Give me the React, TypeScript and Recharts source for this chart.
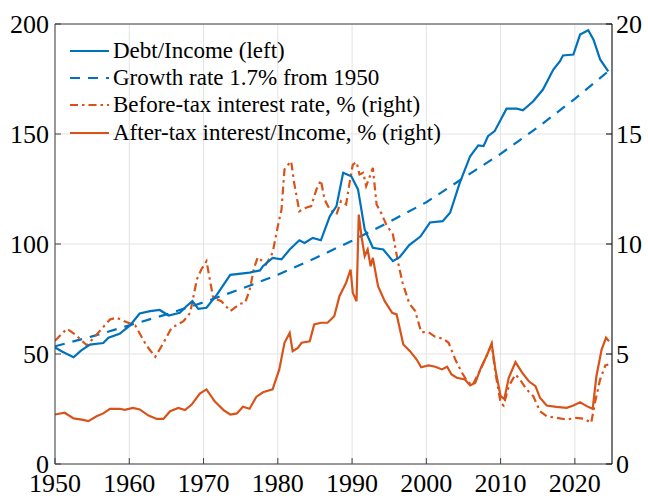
import { LineChart, Line, XAxis, YAxis, CartesianGrid, Legend } from 'recharts';

const FONT = 'Liberation Serif, DejaVu Serif, Times New Roman, Times, serif';
const BLUE = '#0072BD';
const ORANGE = '#D95319';

const YEAR_TICKS = [1950, 1960, 1970, 1980, 1990, 2000, 2010, 2020];
const LEFT_TICKS = [0, 50, 100, 150, 200];
const RIGHT_TICKS = [0, 5, 10, 15, 20];

// Debt/Income (left axis)
const debtYears = [
  1950, 1951, 1952.5, 1953.5, 1954.7, 1956.5, 1957.2, 1958.7, 1960.1, 1961.4, 1962.8, 1964.1, 1965.3,
  1966.8, 1967.7, 1968.5, 1969.3, 1970.4, 1971.8, 1973.6, 1976.2, 1977.6, 1978, 1979.3, 1980.5,
  1981.6, 1982.9, 1983.6, 1984.7, 1985.8, 1987, 1987.9, 1988.8, 1989.9, 1990.8, 1991.7, 1992.8,
  1994.2, 1995.5, 1996.4, 1997.7, 1999.2, 2000.5, 2002.2, 2003.2, 2004.5, 2005.9, 2007, 2007.7,
  2008.3, 2009.2, 2010.8, 2012.2, 2013, 2014.4, 2015.7, 2017.1, 2018, 2018.4, 2019.8, 2020.7,
  2021.8, 2022.5, 2023.4, 2024.5,
];
const debtValues = [
  53, 51, 48.5, 51.5, 54.3, 55, 57.4, 59.2, 63, 68.4, 69.5, 70, 67.5,
  68.7, 71.7, 74, 70.5, 71, 77, 86, 87, 88, 89.9, 93.7, 93,
  97.5, 101.7, 100.5, 102.8, 101.7, 112.6, 117.2, 132.4, 130.8, 124.8, 106.6, 98.3,
  97.5, 92.2, 94, 99.5, 103.4, 109.8, 110.4, 114.2, 127.8, 139.9, 144.8, 144.5,
  149, 151.3, 161.5, 161.5, 160.8, 164.9, 170.2, 179.3, 183.1, 185.7, 186.1, 195.2,
  197.2, 193, 183.9, 178.5,
];

// Growth rate 1.7% from 1950 (left axis)
const growthYears = [1950, 1955, 1960, 1965, 1970, 1975, 1980, 1985, 1990, 1995, 2000, 2005, 2010, 2015, 2020, 2024.5];
const growthValues = [53.5, 58, 63, 68, 73.5, 79.5, 86, 93.5, 101.5, 110, 119, 130, 141, 153, 166, 178.5];

// Before-tax interest rate, % (right axis)
const beforeTaxYears = [
  1950, 1951.6, 1952.7, 1954.3, 1955.8, 1957.4, 1958.3, 1959.6, 1960.8, 1962.3, 1963.5, 1964.6,
  1965.7, 1967.3, 1968.2, 1969.1, 1969.7, 1970.4, 1971.3, 1972.4, 1973.6, 1974.9, 1975.6, 1976.2,
  1976.8, 1977.3, 1978.4, 1979.3, 1980, 1980.5, 1980.9, 1981.3, 1981.8, 1982.2, 1982.9, 1983.8,
  1984.5, 1985.2, 1985.8, 1986.3, 1987, 1987.9, 1988.5, 1989.2, 1989.7, 1990.1, 1990.6, 1991,
  1991.5, 1991.9, 1992.4, 1992.8, 1993.3, 1993.9, 1994.6, 1995.5, 1996.2, 1996.8, 1997.7, 1998.5,
  1999.3, 2000.3, 2001.2, 2002.3, 2003, 2003.9, 2004.8, 2005.5, 2006.2, 2007.3, 2008.2, 2008.8,
  2009.3, 2010, 2010.4, 2011.1, 2012, 2012.6, 2013.5, 2014.4, 2015.3, 2016.2, 2017.5, 2018.9,
  2020.2, 2021.3, 2022.2, 2022.7, 2023.4, 2024.1, 2024.5,
];
const beforeTaxValues = [
  5.6, 6.15, 5.89, 5.39, 5.96, 6.57, 6.65, 6.45, 6.3, 5.39, 4.87, 5.5,
  6.19, 6.49, 6.87, 8.39, 8.84, 9.22, 7.55, 7.4, 6.95, 7.28, 7.33, 7.9,
  8.9, 9.4, 9.07, 9.6, 10.8, 11.57, 13.39, 13.57, 13.76, 12.78, 11.49, 11.65,
  11.72, 12.48, 12.9, 12.02, 11.57, 11.34, 11.95, 11.8, 12.85, 13.61, 13.72, 13.16,
  13.24, 12.63, 13.08, 13.46, 11.8, 11.42, 10.89, 10.43, 9.15, 8.24, 7.3, 6.95,
  6.0, 5.99, 5.78, 5.69, 5.51, 4.75, 4.15, 3.76, 3.57, 4.3, 4.98, 5.43,
  4.15, 2.78, 2.66, 3.54, 4.07, 3.84, 3.39, 3.08, 2.4, 2.17, 2.1, 2.02,
  2.1, 2.05, 1.87, 2.78, 3.84, 4.48, 4.52,
];

// After-tax interest/Income, % (right axis)
const afterTaxYears = [
  1950, 1951.3, 1952.5, 1953.6, 1954.5, 1955.6, 1956.5, 1957.4, 1958.7, 1959.4, 1960.5, 1961.4,
  1962.6, 1963.7, 1964.6, 1965.5, 1966.6, 1967.5, 1968.4, 1969.5, 1970.4, 1971.5, 1972.7, 1973.6,
  1974.5, 1975.3, 1976.2, 1977.1, 1978, 1979.3, 1980.2, 1980.9, 1981.6, 1982, 1982.7, 1983.2,
  1984.3, 1984.9, 1985.8, 1986.7, 1987.6, 1988.3, 1989.2, 1989.8, 1990.1, 1990.6, 1990.9, 1991.3,
  1991.7, 1992.1, 1992.5, 1992.8, 1993.5, 1994.4, 1995.4, 1996, 1996.9, 1997.8, 1998.7, 1999.3,
  2000.3, 2001.2, 2002.1, 2002.8, 2003.4, 2004.1, 2005.2, 2005.9, 2006.6, 2007.3, 2008.2, 2008.8,
  2009.3, 2010, 2010.5, 2011.1, 2012, 2012.9, 2013.8, 2014.7, 2015.3, 2016.2, 2017.5, 2018.9,
  2019.8, 2020.7, 2021.6, 2022.4, 2022.9, 2023.6, 2024.2, 2024.6,
];
const afterTaxValues = [
  2.25, 2.33, 2.07, 2.02, 1.95, 2.17, 2.3, 2.51, 2.51, 2.46, 2.55, 2.48,
  2.2, 2.05, 2.05, 2.4, 2.55, 2.45, 2.7, 3.2, 3.39, 2.85, 2.45, 2.25,
  2.3, 2.6, 2.51, 3.05, 3.26, 3.39, 4.3, 5.51, 5.96, 5.13, 5.28, 5.51,
  5.58, 6.34, 6.42, 6.42, 6.72, 7.63, 8.24, 8.84, 7.78, 7.4, 11.34, 10.28,
  9.45, 9.75, 8.99, 9.37, 8.08, 7.4, 6.87, 6.8, 5.43, 5.13, 4.75, 4.4,
  4.48, 4.42, 4.3, 4.42, 4.07, 3.92, 3.84, 3.57, 3.69, 4.33, 4.98, 5.48,
  4.3, 3.08, 2.96, 3.92, 4.63, 4.15, 3.76, 3.54, 3.01, 2.66, 2.6, 2.55,
  2.66, 2.81, 2.63, 2.51, 3.99, 5.2, 5.74, 5.58,
];

const zip = (years: number[], values: number[]) => years.map((year, i) => ({ year, value: values[i] }));

const debtData = zip(debtYears, debtValues);
const growthData = zip(growthYears, growthValues);
const beforeTaxData = zip(beforeTaxYears, beforeTaxValues);
const afterTaxData = zip(afterTaxYears, afterTaxValues);

const LEGEND_ITEMS = [
  { label: 'Debt/Income (left)', color: BLUE, dash: undefined },
  { label: 'Growth rate 1.7% from 1950', color: BLUE, dash: '10 8' },
  { label: 'Before-tax interest rate, % (right)', color: ORANGE, dash: '8 4 2.5 4' },
  { label: 'After-tax interest/Income, % (right)', color: ORANGE, dash: undefined },
];

const tickStyle = { fontSize: 26, fill: '#000', fontFamily: FONT };

function LegendBox() {
  return (
    <div style={{ fontFamily: FONT, fontSize: 23, color: '#000' }}>
      {LEGEND_ITEMS.map((item) => (
        <div key={item.label} style={{ display: 'flex', alignItems: 'center', height: 27.4, whiteSpace: 'nowrap' }}>
          <svg width={39} height={6} style={{ marginRight: 4 }}>
            <line x1={0} y1={3} x2={39} y2={3} stroke={item.color} strokeWidth={2.2} strokeDasharray={item.dash} />
          </svg>
          <span>{item.label}</span>
        </div>
      ))}
    </div>
  );
}

export default function App() {
  return (
    <div style={{ position: 'absolute', top: 0, left: 0, width: 648, height: 498, background: '#fff', fontFamily: FONT }}>
      <LineChart width={648} height={498} margin={{ top: 0, right: 0, bottom: 0, left: 0 }}>
        <CartesianGrid stroke="#e3e3e3" strokeWidth={1} yAxisId="left" />
        <XAxis
          dataKey="year"
          type="number"
          domain={[1950, 2025]}
          ticks={YEAR_TICKS}
          allowDataOverflow
          height={34}
          stroke="#404040"
          tickSize={-6}
          tickMargin={16}
          tick={tickStyle}
        />
        <XAxis
          xAxisId="top"
          orientation="top"
          type="number"
          domain={[1950, 2025]}
          ticks={YEAR_TICKS}
          height={24}
          stroke="#404040"
          tickSize={-6}
          tick={() => <g />}
        />
        <YAxis
          yAxisId="left"
          domain={[0, 200]}
          ticks={LEFT_TICKS}
          width={55}
          stroke="#404040"
          tickSize={-6}
          tickMargin={12}
          tick={tickStyle}
        />
        <YAxis
          yAxisId="right"
          orientation="right"
          domain={[0, 20]}
          ticks={RIGHT_TICKS}
          width={36}
          stroke="#000"
          tickSize={-6}
          tickMargin={10}
          tick={tickStyle}
        />
        <Legend
          layout="vertical"
          align="center"
          verticalAlign="middle"
          content={() => <LegendBox />}
          wrapperStyle={{ top: 37, left: 70, width: 420 }}
        />
        <Line yAxisId="left" data={growthData} dataKey="value" stroke={BLUE} strokeWidth={2.2} strokeDasharray="10 8" dot={false} isAnimationActive={false} />
        <Line yAxisId="right" data={beforeTaxData} dataKey="value" stroke={ORANGE} strokeWidth={2.2} strokeDasharray="8 4 2.5 4" dot={false} isAnimationActive={false} />
        <Line yAxisId="right" data={afterTaxData} dataKey="value" stroke={ORANGE} strokeWidth={2.2} dot={false} isAnimationActive={false} />
        <Line yAxisId="left" data={debtData} dataKey="value" stroke={BLUE} strokeWidth={2.2} dot={false} isAnimationActive={false} />
      </LineChart>
    </div>
  );
}
